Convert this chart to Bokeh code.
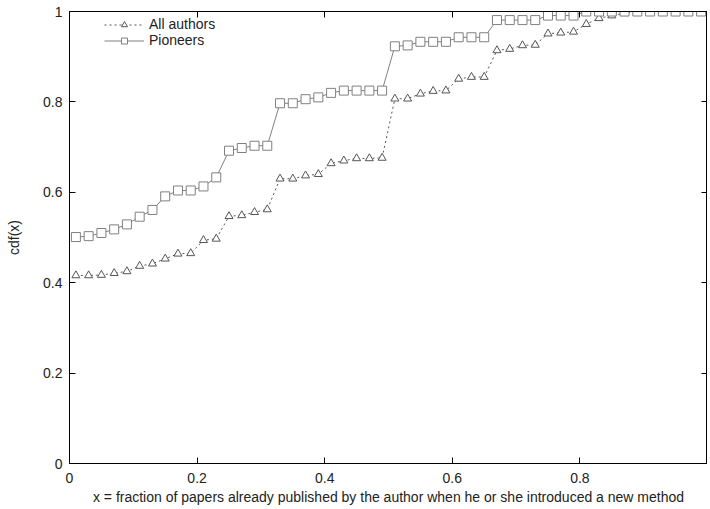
from bokeh.plotting import figure
from bokeh.models import Range1d, LinearAxis, FixedTicker, CustomJSTickFormatter, Legend, LegendItem
from bokeh.embed import file_html
from bokeh.resources import INLINE

# x positions of the points (fraction of papers)
x_vals = [0.01, 0.03, 0.05, 0.07, 0.09, 0.11, 0.13, 0.15, 0.17, 0.19,
          0.21, 0.23, 0.25, 0.27, 0.29, 0.31, 0.33, 0.35, 0.37, 0.39,
          0.41, 0.43, 0.45, 0.47, 0.49, 0.51, 0.53, 0.55, 0.57, 0.59,
          0.61, 0.63, 0.65, 0.67, 0.69, 0.71, 0.73, 0.75, 0.77, 0.79,
          0.81, 0.83, 0.85, 0.87, 0.89, 0.91, 0.93, 0.95, 0.97, 0.99]

all_authors = [0.416, 0.416, 0.417, 0.421, 0.425, 0.437, 0.442, 0.453, 0.464, 0.465,
               0.494, 0.497, 0.547, 0.549, 0.556, 0.562, 0.630, 0.630, 0.637, 0.640,
               0.664, 0.670, 0.675, 0.675, 0.676, 0.807, 0.807, 0.818, 0.824, 0.825,
               0.851, 0.855, 0.855, 0.914, 0.917, 0.925, 0.926, 0.951, 0.953, 0.955,
               0.972, 0.985, 0.991, 0.996, 1.0, 1.0, 1.0, 1.0, 1.0, 1.0]

pioneers = [0.501, 0.503, 0.510, 0.518, 0.529, 0.546, 0.561, 0.591, 0.604, 0.604,
            0.613, 0.633, 0.692, 0.698, 0.703, 0.703, 0.797, 0.797, 0.806, 0.810,
            0.820, 0.825, 0.825, 0.825, 0.825, 0.923, 0.925, 0.933, 0.933, 0.933,
            0.943, 0.943, 0.943, 0.981, 0.981, 0.981, 0.981, 0.991, 0.991, 0.991,
            1.0, 1.0, 1.0, 1.0, 1.0, 1.0, 1.0, 1.0, 1.0, 1.0]

x_ticks = [0, 0.2, 0.4, 0.6, 0.8, 1.0]
y_ticks = [0, 0.2, 0.4, 0.6, 0.8, 1.0]
x_label = "x = fraction of papers already published by the author when he or she introduced a new method"
y_label = "cdf(x)"

FONT = "Liberation Sans"
TXT = "#222222"

p = figure(frame_width=638, frame_height=452, output_backend="svg", toolbar_location=None,
           x_range=Range1d(0, 1), y_range=Range1d(0, 1),
           min_border_left=69, min_border_right=0, min_border_top=11, min_border_bottom=30,
           background_fill_color="white", border_fill_color="white")
p.grid.visible = False
p.outline_line_color = "black"
p.outline_line_width = 1

fmt_x = CustomJSTickFormatter(code="return tick >= 0.999 ? '' : String(Math.round(tick*10)/10);")
fmt_y = CustomJSTickFormatter(code="return String(Math.round(tick*10)/10);")

def style(ax, labels=True):
    ax.axis_line_color = "black"
    ax.axis_line_width = 1
    ax.major_tick_in = 6
    ax.major_tick_out = 0
    ax.minor_tick_line_color = None
    ax.major_tick_line_color = "black"
    ax.major_label_text_font = FONT
    ax.major_label_text_font_size = "14px"
    ax.major_label_text_color = TXT
    ax.axis_label_text_font = FONT
    ax.axis_label_text_font_size = "14px"
    ax.axis_label_text_font_style = "normal"
    ax.axis_label_text_color = TXT
    if not labels:
        ax.major_label_text_font_size = "1px"
        ax.major_label_text_color = None
        ax.major_label_standoff = 0

xa = p.xaxis[0]
xa.ticker = FixedTicker(ticks=x_ticks)
xa.formatter = fmt_x
xa.axis_label = x_label
style(xa)
xa.major_label_standoff = 9
xa.axis_label_standoff = 3

ya = p.yaxis[0]
ya.ticker = FixedTicker(ticks=y_ticks)
ya.formatter = fmt_y
ya.axis_label = y_label
style(ya)
ya.major_label_standoff = 7
ya.axis_label_standoff = 18

top = LinearAxis(ticker=FixedTicker(ticks=x_ticks), major_label_overrides={})
style(top, labels=False)
p.add_layout(top, "above")
right = LinearAxis(ticker=FixedTicker(ticks=y_ticks))
style(right, labels=False)
p.add_layout(right, "right")

l1 = p.line(x_vals, all_authors, line_color="#555555", line_width=1, line_dash="2 3")
s1 = p.scatter(x_vals, all_authors, marker="triangle", size=8, line_color="#555555",
               fill_color="white", line_width=1)
l2 = p.line(x_vals, pioneers, line_color="#808080", line_width=1)
s2 = p.scatter(x_vals, pioneers, marker="square", size=9, line_color="#808080",
               fill_color="white", line_width=1)

legend = Legend(items=[LegendItem(label="All authors", renderers=[l1, s1]),
                       LegendItem(label="Pioneers", renderers=[l2, s2])],
                location=(35, 415), padding=0, spacing=0, margin=0,
                glyph_width=40, glyph_height=15, label_height=15,
                label_text_font=FONT, label_text_font_size="14px", label_text_color=TXT,
                background_fill_alpha=0, border_line_color=None)
p.add_layout(legend, "center")

open("out.html", "w").write(file_html(p, INLINE))
